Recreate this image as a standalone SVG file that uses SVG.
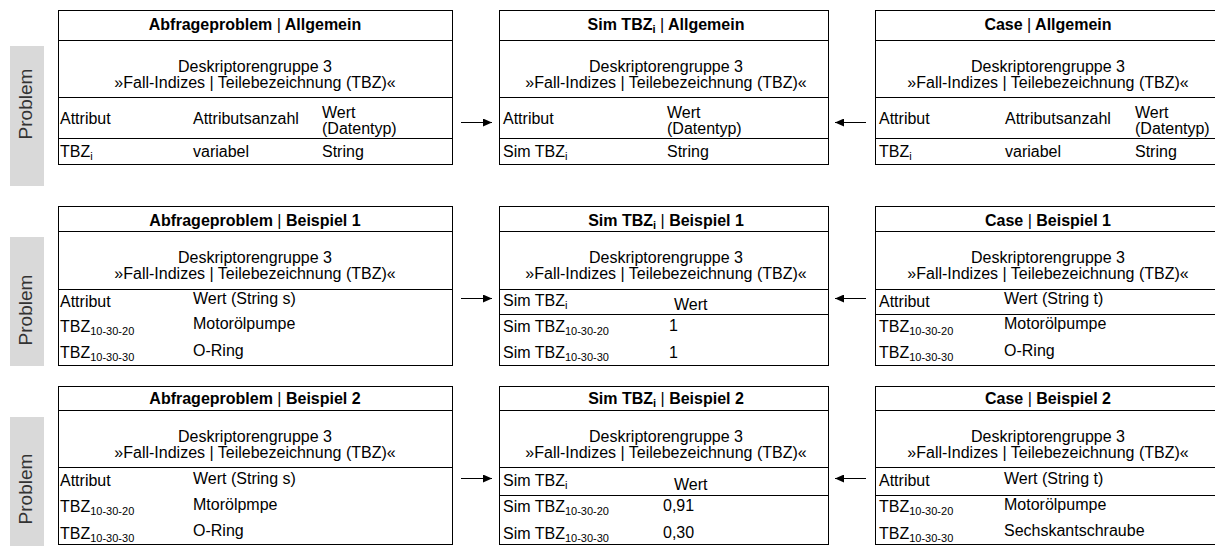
<svg xmlns="http://www.w3.org/2000/svg" width="1215" height="546" viewBox="0 0 1215 546">
  <style>
    text { font-family: "Liberation Sans", Arial, sans-serif; font-size: 16px; fill: #000; }
    .b { font-weight: bold; }
    .n { font-weight: normal; }
    .c { text-anchor: middle; }
    .sub { font-size: 11px; }
    .prob { font-size: 19px; fill: #333; text-anchor: middle; }
    .side { fill: #d9d9d9; }
    .frame { fill: #fff; stroke: #000; stroke-width: 1; }
    .rule { stroke: #000; stroke-width: 1; }
    .conn { stroke: #000; stroke-width: 1; fill: none; }
  </style>
  <defs>
    <marker id="head" markerUnits="userSpaceOnUse" markerWidth="9" markerHeight="8" refX="9" refY="4" orient="auto">
      <path d="M0,0 L9,4 L0,8 z" fill="#000"/>
    </marker>
  </defs>

  <rect width="1215" height="546" fill="#fff"/>

  <!-- side labels -->
  <g id="label-row1">
    <rect class="side" x="10" y="46" width="34" height="140"/>
    <text class="prob" transform="translate(32,104) rotate(-90)">Problem</text>
  </g>
  <g id="label-row2">
    <rect class="side" x="10" y="237" width="34" height="129"/>
    <text class="prob" transform="translate(32,310) rotate(-90)">Problem</text>
  </g>
  <g id="label-row3">
    <rect class="side" x="10" y="417" width="34" height="129"/>
    <text class="prob" transform="translate(32,489) rotate(-90)">Problem</text>
  </g>

  <!-- ===== Row 1: Allgemein ===== -->
  <g id="query-general">
    <rect class="frame" x="58.5" y="10.5" width="394" height="154"/>
    <line class="rule" x1="58.5" y1="40.5" x2="452.5" y2="40.5"/>
    <line class="rule" x1="58.5" y1="97.5" x2="452.5" y2="97.5"/>
    <line class="rule" x1="58.5" y1="138.5" x2="452.5" y2="138.5"/>
    <text class="c b" x="255" y="30">Abfrageproblem <tspan class="n">|</tspan> Allgemein</text>
    <text class="c" x="255" y="72">Deskriptorengruppe 3</text>
    <text class="c" x="255" y="88">»Fall-Indizes | Teilebezeichnung (TBZ)«</text>
    <text x="60" y="124">Attribut</text>
    <text x="193" y="124">Attributsanzahl</text>
    <text x="322" y="118">Wert</text>
    <text x="322" y="134">(Datentyp)</text>
    <text x="60" y="157">TBZ<tspan class="sub" dy="3">i</tspan></text>
    <text x="193" y="157">variabel</text>
    <text x="322" y="157">String</text>
  </g>

  <g id="sim-general">
    <rect class="frame" x="499.5" y="10.5" width="329" height="154"/>
    <line class="rule" x1="499.5" y1="40.5" x2="828.5" y2="40.5"/>
    <line class="rule" x1="499.5" y1="97.5" x2="828.5" y2="97.5"/>
    <line class="rule" x1="499.5" y1="138.5" x2="828.5" y2="138.5"/>
    <text class="c b" x="666" y="30">Sim TBZ<tspan class="sub" dy="3">i</tspan><tspan class="n" dy="-3"> |</tspan> Allgemein</text>
    <text class="c" x="666" y="72">Deskriptorengruppe 3</text>
    <text class="c" x="666" y="88">»Fall-Indizes | Teilebezeichnung (TBZ)«</text>
    <text x="503" y="124">Attribut</text>
    <text x="667" y="118">Wert</text>
    <text x="667" y="134">(Datentyp)</text>
    <text x="503" y="157">Sim TBZ<tspan class="sub" dy="3">i</tspan></text>
    <text x="667" y="157">String</text>
  </g>

  <g id="case-general">
    <rect class="frame" x="875.5" y="10.5" width="346" height="154"/>
    <line class="rule" x1="875.5" y1="40.5" x2="1221.5" y2="40.5"/>
    <line class="rule" x1="875.5" y1="97.5" x2="1221.5" y2="97.5"/>
    <line class="rule" x1="875.5" y1="138.5" x2="1221.5" y2="138.5"/>
    <text class="c b" x="1048" y="30">Case <tspan class="n">|</tspan> Allgemein</text>
    <text class="c" x="1048" y="72">Deskriptorengruppe 3</text>
    <text class="c" x="1048" y="88">»Fall-Indizes | Teilebezeichnung (TBZ)«</text>
    <text x="879" y="124">Attribut</text>
    <text x="1005" y="124">Attributsanzahl</text>
    <text x="1135" y="118">Wert</text>
    <text x="1135" y="134">(Datentyp)</text>
    <text x="879" y="157">TBZ<tspan class="sub" dy="3">i</tspan></text>
    <text x="1005" y="157">variabel</text>
    <text x="1135" y="157">String</text>
  </g>

  <!-- ===== Row 2: Beispiel 1 ===== -->
  <g id="query-example1">
    <rect class="frame" x="58.5" y="206.5" width="394" height="159"/>
    <line class="rule" x1="58.5" y1="231.5" x2="452.5" y2="231.5"/>
    <line class="rule" x1="58.5" y1="289.5" x2="452.5" y2="289.5"/>
    <text class="c b" x="255" y="226">Abfrageproblem <tspan class="n">|</tspan> Beispiel 1</text>
    <text class="c" x="255" y="263">Deskriptorengruppe 3</text>
    <text class="c" x="255" y="279">»Fall-Indizes | Teilebezeichnung (TBZ)«</text>
    <text x="60" y="306.5">Attribut</text>
    <text x="193" y="304">Wert (String s)</text>
    <text x="60" y="331.5">TBZ<tspan class="sub" dy="3">10-30-20</tspan></text>
    <text x="193" y="329">Motorölpumpe</text>
    <text x="60" y="358">TBZ<tspan class="sub" dy="3">10-30-30</tspan></text>
    <text x="193" y="356">O-Ring</text>
  </g>

  <g id="sim-example1">
    <rect class="frame" x="499.5" y="206.5" width="329" height="159"/>
    <line class="rule" x1="499.5" y1="231.5" x2="828.5" y2="231.5"/>
    <line class="rule" x1="499.5" y1="289.5" x2="828.5" y2="289.5"/>
    <line class="rule" x1="499.5" y1="314.5" x2="828.5" y2="314.5"/>
    <text class="c b" x="666" y="226">Sim TBZ<tspan class="sub" dy="3">i</tspan><tspan class="n" dy="-3"> |</tspan> Beispiel 1</text>
    <text class="c" x="666" y="263">Deskriptorengruppe 3</text>
    <text class="c" x="666" y="279">»Fall-Indizes | Teilebezeichnung (TBZ)«</text>
    <text x="503" y="306">Sim TBZ<tspan class="sub" dy="3">i</tspan></text>
    <text x="674" y="310">Wert</text>
    <text x="503" y="331.5">Sim TBZ<tspan class="sub" dy="3">10-30-20</tspan></text>
    <text x="669" y="331">1</text>
    <text x="503" y="358">Sim TBZ<tspan class="sub" dy="3">10-30-30</tspan></text>
    <text x="669" y="358">1</text>
  </g>

  <g id="case-example1">
    <rect class="frame" x="875.5" y="206.5" width="346" height="159"/>
    <line class="rule" x1="875.5" y1="231.5" x2="1221.5" y2="231.5"/>
    <line class="rule" x1="875.5" y1="289.5" x2="1221.5" y2="289.5"/>
    <line class="rule" x1="875.5" y1="314.5" x2="1221.5" y2="314.5"/>
    <text class="c b" x="1048" y="226">Case <tspan class="n">|</tspan> Beispiel 1</text>
    <text class="c" x="1048" y="263">Deskriptorengruppe 3</text>
    <text class="c" x="1048" y="279">»Fall-Indizes | Teilebezeichnung (TBZ)«</text>
    <text x="879" y="306.5">Attribut</text>
    <text x="1004" y="304">Wert (String t)</text>
    <text x="879" y="331.5">TBZ<tspan class="sub" dy="3">10-30-20</tspan></text>
    <text x="1004" y="329">Motorölpumpe</text>
    <text x="879" y="358">TBZ<tspan class="sub" dy="3">10-30-30</tspan></text>
    <text x="1004" y="356">O-Ring</text>
  </g>

  <!-- ===== Row 3: Beispiel 2 ===== -->
  <g id="query-example2">
    <rect class="frame" x="58.5" y="386.5" width="394" height="158"/>
    <line class="rule" x1="58.5" y1="410.5" x2="452.5" y2="410.5"/>
    <line class="rule" x1="58.5" y1="467.5" x2="452.5" y2="467.5"/>
    <text class="c b" x="255" y="404">Abfrageproblem <tspan class="n">|</tspan> Beispiel 2</text>
    <text class="c" x="255" y="442">Deskriptorengruppe 3</text>
    <text class="c" x="255" y="458">»Fall-Indizes | Teilebezeichnung (TBZ)«</text>
    <text x="60" y="486">Attribut</text>
    <text x="193" y="483.5">Wert (String s)</text>
    <text x="60" y="512">TBZ<tspan class="sub" dy="3">10-30-20</tspan></text>
    <text x="193" y="510">Mtorölpmpe</text>
    <text x="60" y="538.5">TBZ<tspan class="sub" dy="3">10-30-30</tspan></text>
    <text x="193" y="536">O-Ring</text>
  </g>

  <g id="sim-example2">
    <rect class="frame" x="499.5" y="386.5" width="329" height="158"/>
    <line class="rule" x1="499.5" y1="410.5" x2="828.5" y2="410.5"/>
    <line class="rule" x1="499.5" y1="467.5" x2="828.5" y2="467.5"/>
    <line class="rule" x1="499.5" y1="495.5" x2="828.5" y2="495.5"/>
    <text class="c b" x="666" y="404">Sim TBZ<tspan class="sub" dy="3">i</tspan><tspan class="n" dy="-3"> |</tspan> Beispiel 2</text>
    <text class="c" x="666" y="442">Deskriptorengruppe 3</text>
    <text class="c" x="666" y="458">»Fall-Indizes | Teilebezeichnung (TBZ)«</text>
    <text x="503" y="485.5">Sim TBZ<tspan class="sub" dy="3">i</tspan></text>
    <text x="674" y="489.5">Wert</text>
    <text x="503" y="512">Sim TBZ<tspan class="sub" dy="3">10-30-20</tspan></text>
    <text x="663" y="511">0,91</text>
    <text x="503" y="538.5">Sim TBZ<tspan class="sub" dy="3">10-30-30</tspan></text>
    <text x="663" y="538">0,30</text>
  </g>

  <g id="case-example2">
    <rect class="frame" x="875.5" y="386.5" width="346" height="158"/>
    <line class="rule" x1="875.5" y1="410.5" x2="1221.5" y2="410.5"/>
    <line class="rule" x1="875.5" y1="467.5" x2="1221.5" y2="467.5"/>
    <line class="rule" x1="875.5" y1="495.5" x2="1221.5" y2="495.5"/>
    <text class="c b" x="1048" y="404">Case <tspan class="n">|</tspan> Beispiel 2</text>
    <text class="c" x="1048" y="442">Deskriptorengruppe 3</text>
    <text class="c" x="1048" y="458">»Fall-Indizes | Teilebezeichnung (TBZ)«</text>
    <text x="879" y="486">Attribut</text>
    <text x="1004" y="483.5">Wert (String t)</text>
    <text x="879" y="512">TBZ<tspan class="sub" dy="3">10-30-20</tspan></text>
    <text x="1004" y="510">Motorölpumpe</text>
    <text x="879" y="538.5">TBZ<tspan class="sub" dy="3">10-30-30</tspan></text>
    <text x="1004" y="536">Sechskantschraube</text>
  </g>

  <!-- connectors -->
  <g id="connectors">
    <line class="conn" x1="461" y1="122.5" x2="492" y2="122.5" marker-end="url(#head)"/>
    <line class="conn" x1="866" y1="122.5" x2="835" y2="122.5" marker-end="url(#head)"/>
    <line class="conn" x1="461" y1="298.5" x2="492" y2="298.5" marker-end="url(#head)"/>
    <line class="conn" x1="866" y1="298.5" x2="835" y2="298.5" marker-end="url(#head)"/>
    <line class="conn" x1="461" y1="478.5" x2="492" y2="478.5" marker-end="url(#head)"/>
    <line class="conn" x1="866" y1="478.5" x2="835" y2="478.5" marker-end="url(#head)"/>
  </g>
</svg>
